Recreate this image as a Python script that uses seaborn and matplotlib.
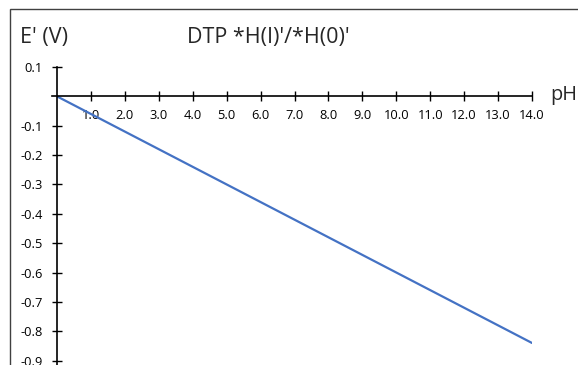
import numpy as np
import pandas as pd
import matplotlib.pyplot as plt
import seaborn as sns
from matplotlib.patches import Rectangle

# values
pH = [0, 1, 2, 3, 4, 5, 6, 7, 8, 9, 10, 11, 12, 13, 14]
E = [0.0, -0.06, -0.12, -0.18, -0.24, -0.30, -0.36, -0.42, -0.48,
     -0.54, -0.60, -0.66, -0.72, -0.78, -0.84]
yTicks = [0.1, -0.1, -0.2, -0.3, -0.4, -0.5, -0.6, -0.7, -0.8, -0.9]
xTicks = [1, 2, 3, 4, 5, 6, 7, 8, 9, 10, 11, 12, 13, 14]

sns.set_style('white')
plt.rcParams['font.family'] = ['Open Sans', 'DejaVu Sans']

df = pd.DataFrame({'pH': pH, 'E': E})

W, H = 578, 365
fig = plt.figure(figsize=(W / 100, H / 100), dpi=100)
ax = fig.add_axes([57 / W, 0, (532 - 57) / W, (365 - 67) / H])

sns.lineplot(data=df, x='pH', y='E', color='#4472C4', linewidth=1.6, ax=ax)

ax.set_xlim(0, 14)
ax.set_ylim(-0.915, 0.1)
ax.spines['left'].set_position(('data', 0))
ax.spines['bottom'].set_position(('data', 0))
ax.spines['top'].set_visible(False)
ax.spines['right'].set_visible(False)
for s in ['left', 'bottom']:
    ax.spines[s].set_color('black')
    ax.spines[s].set_linewidth(1.2)
ax.spines['bottom'].set_bounds(-0.15, 14)

ax.set_xticks(xTicks)
ax.set_xticklabels([f'{v:.1f}' for v in xTicks])
ax.set_yticks(yTicks)
ax.set_yticklabels([f'{v:.1f}' for v in yTicks])
ax.tick_params(axis='x', direction='inout', length=7, width=1, pad=5.5,
               labelsize=9.3, colors='black', bottom=True)
ax.tick_params(axis='y', direction='inout', length=7, width=1, pad=7,
               labelsize=9.3, colors='black', left=True)
ax.set_xlabel('')
ax.set_ylabel('')

fig.text(20 / W, 1 - 43 / H, "E' (V)", fontsize=15.5, ha='left', va='baseline')
fig.text(187 / W, 1 - 43 / H, "DTP *H(I)'/*H(0)'", fontsize=15.5, ha='left', va='baseline')
fig.text(550 / W, 1 - 95 / H, 'pH', fontsize=14.3, ha='left', va='center')

fig.patches.append(Rectangle((10 / W, -0.1), 2, 1.1 - 9 / H, transform=fig.transFigure,
                             fill=False, edgecolor='#404040', linewidth=1))

fig.savefig('out.png', dpi=100)
